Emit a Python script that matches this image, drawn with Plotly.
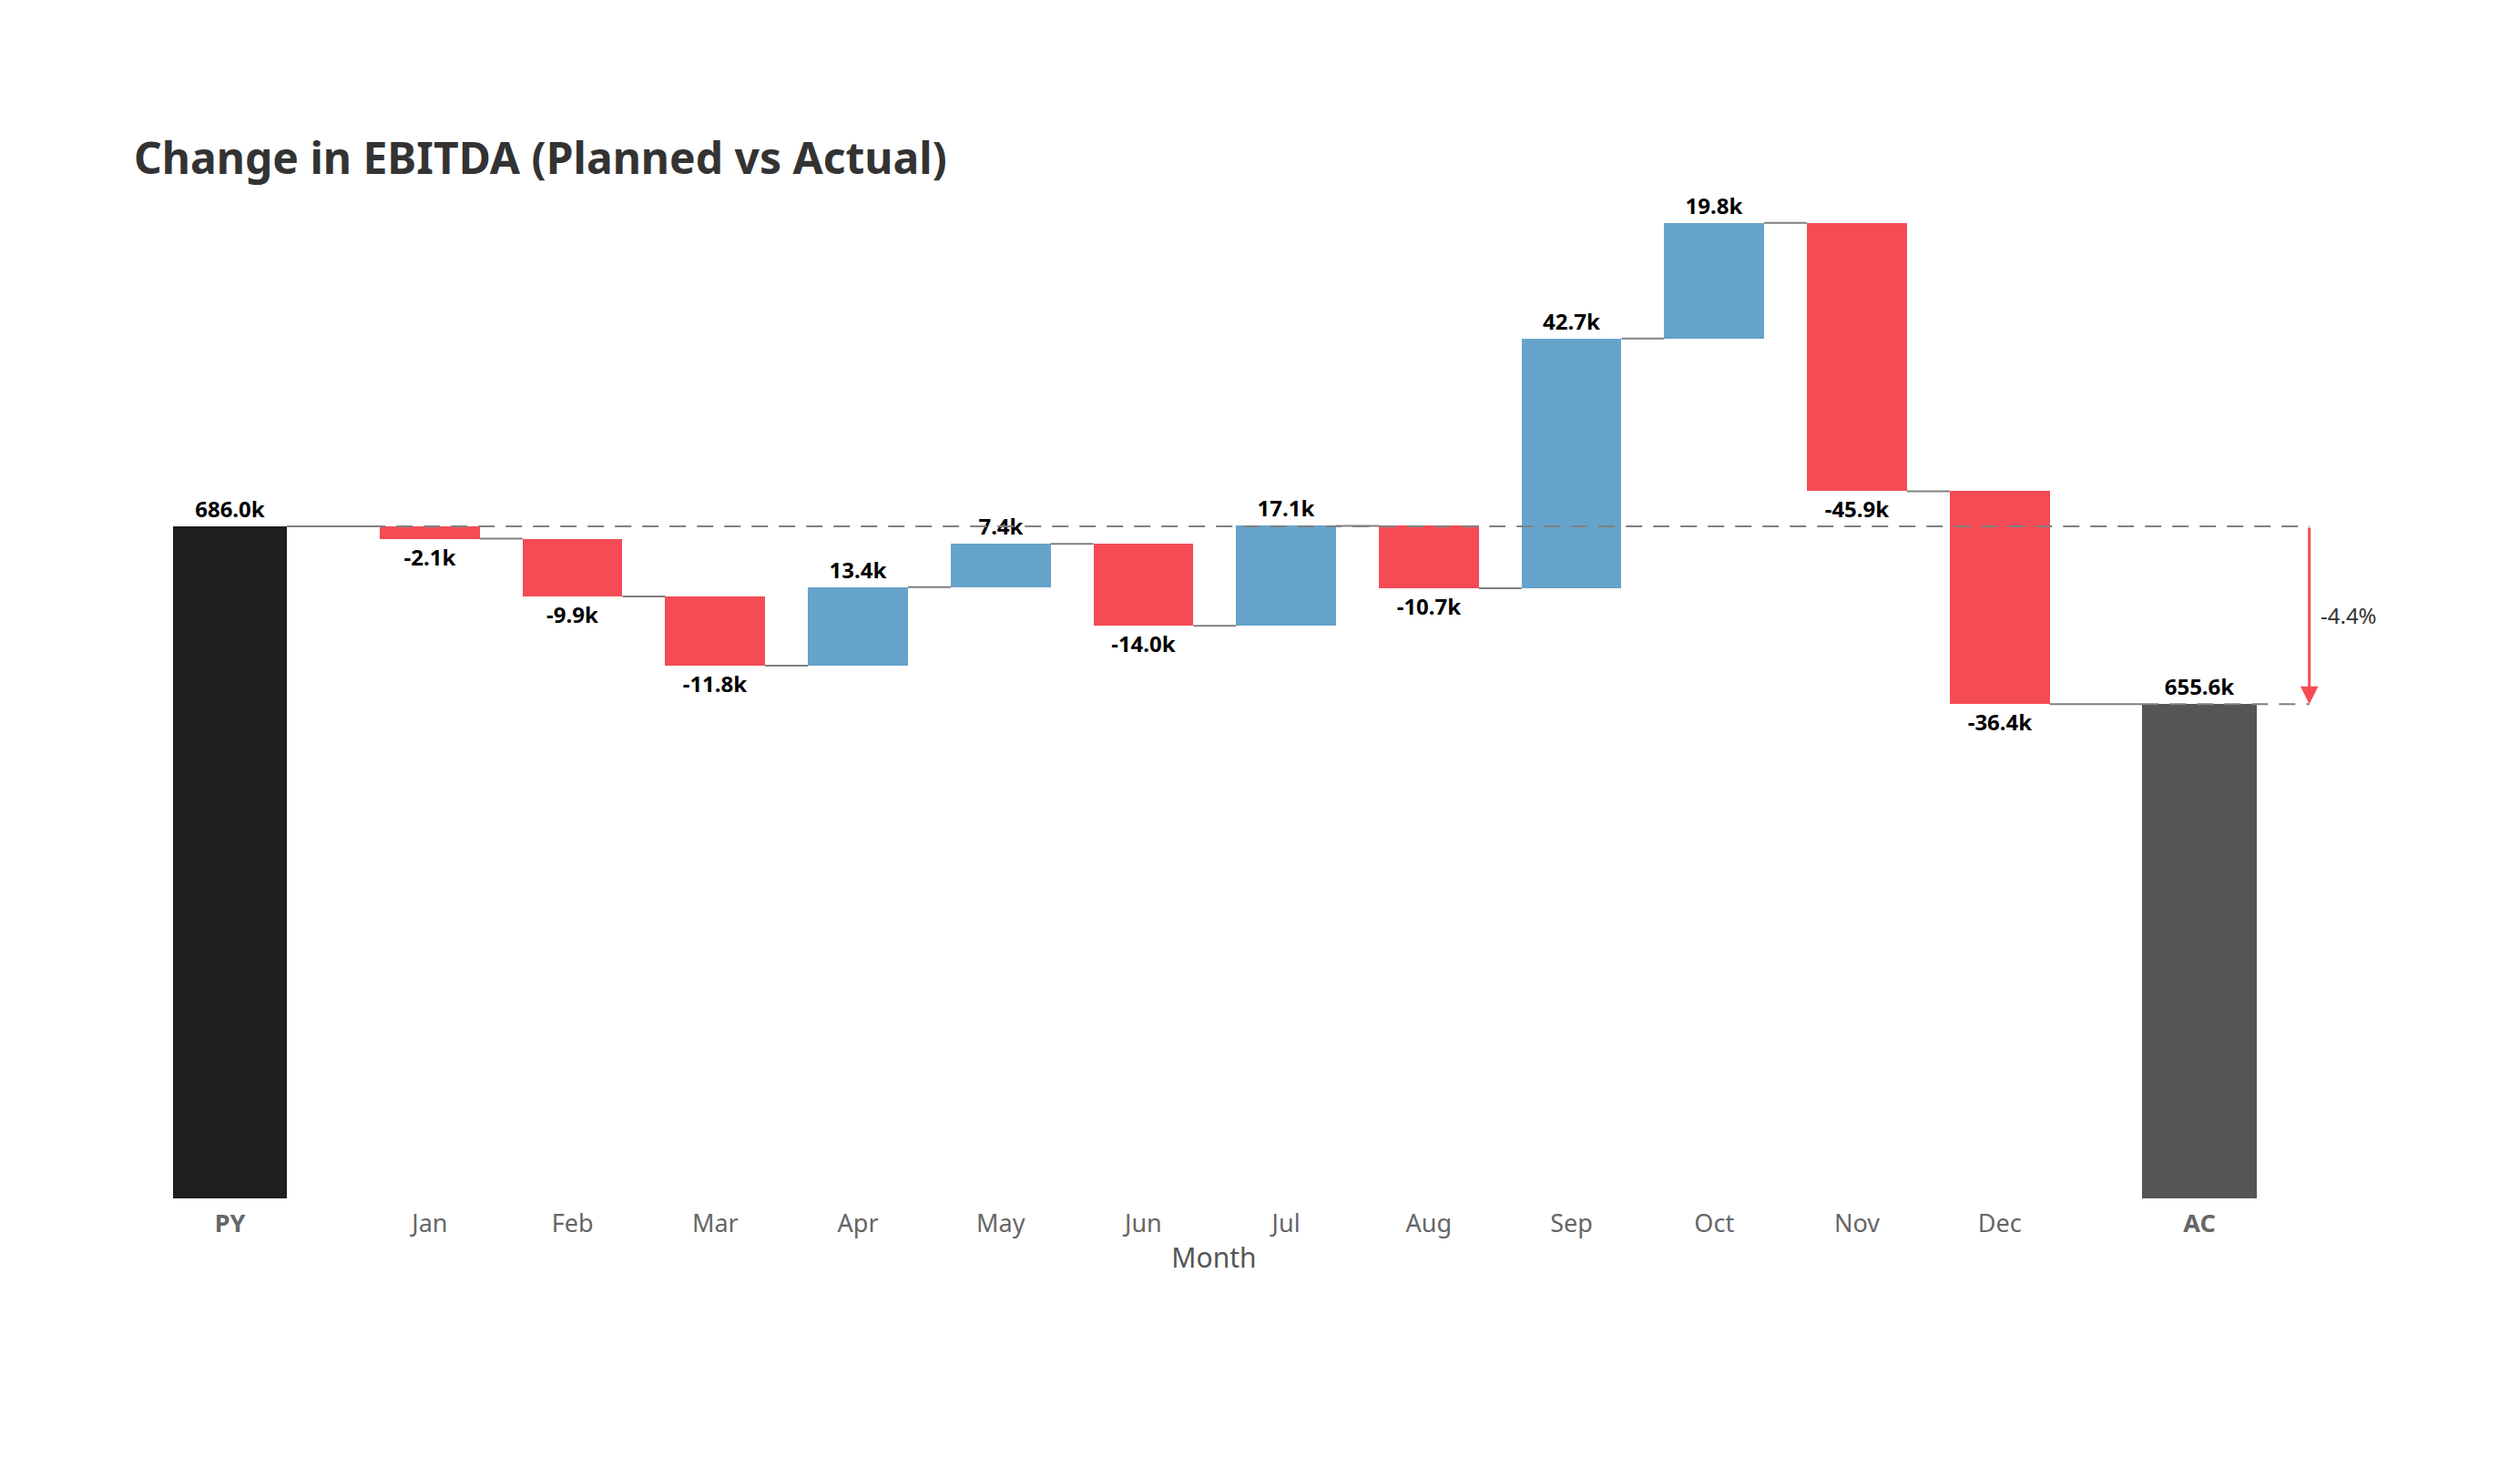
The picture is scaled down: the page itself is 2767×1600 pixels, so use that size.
import plotly.graph_objects as go

# ---- data (values in thousands) ----
months = ["Jan", "Feb", "Mar", "Apr", "May", "Jun", "Jul", "Aug", "Sep", "Oct", "Nov", "Dec"]
py_label = "PY"
ac_label = "AC"
py_value = 686.0
changes = [-2.1, -9.9, -11.8, 13.4, 7.4, -14.0, 17.1, -10.7, 42.7, 19.8, -45.9, -36.4]
ac_value = 655.6

# ---- styles ----
C_POS = "#66a3cb"
C_NEG = "#f44b55"
C_PY = "#1f1f1f"
C_AC = "#555555"
C_LINE = "#808080"
FONT = "Noto Sans"

# x positions (PY and AC set apart from the months)
gap = 1.4
x_py = 0.0
x_months = [gap + i for i in range(len(months))]
x_ac = x_months[-1] + gap
w_total = 0.8
w_month = 0.7

# running totals
bases = []
level = py_value
for c in changes:
    bases.append(level)
    level += c
ends = [b + c for b, c in zip(bases, changes)]

fig = go.Figure()

# totals
fig.add_trace(go.Bar(
    x=[x_py, x_ac], y=[py_value, ac_value], base=0, width=[w_total, w_total],
    marker=dict(color=[C_PY, C_AC], line=dict(width=0)),
    text=[f"{py_value:.1f}k", f"{ac_value:.1f}k"], textposition="outside",
    textfont=dict(family=FONT, size=24, color="#000000", weight="bold"),
    cliponaxis=False, hoverinfo="skip", showlegend=False,
))

# monthly changes
fig.add_trace(go.Bar(
    x=x_months, y=changes, base=bases, width=[w_month] * len(months),
    marker=dict(color=[C_POS if c >= 0 else C_NEG for c in changes], line=dict(width=0)),
    text=[f"{c:.1f}k" for c in changes], textposition="outside",
    textfont=dict(family=FONT, size=24, color="#000000", weight="bold"),
    cliponaxis=False, hoverinfo="skip", showlegend=False,
))

# connectors
xs_all = [x_py] + x_months + [x_ac]
ws_all = [w_total] + [w_month] * len(months) + [w_total]
levels = [py_value] + ends
cx, cy = [], []
for i in range(len(levels)):
    cx += [xs_all[i] + ws_all[i] / 2, xs_all[i + 1] - ws_all[i + 1] / 2, None]
    cy += [levels[i], levels[i], None]
fig.add_trace(go.Scatter(x=cx, y=cy, mode="lines", line=dict(color=C_LINE, width=2),
                         hoverinfo="skip", showlegend=False, cliponaxis=False))

# reference dashed lines and arrow
x_arrow = x_ac + 0.77
fig.add_trace(go.Scatter(
    x=[x_py + w_total / 2, x_arrow, None, x_ac - w_total / 2, x_arrow],
    y=[py_value, py_value, None, ac_value, ac_value],
    mode="lines", line=dict(color=C_LINE, width=2, dash="18px,12px"),
    hoverinfo="skip", showlegend=False, cliponaxis=False))

pct = (ac_value - py_value) / py_value * 100
fig.add_annotation(x=x_arrow, y=ac_value, ax=x_arrow, ay=py_value, xref="x", yref="y",
                   axref="x", ayref="y", text="", showarrow=True, arrowhead=2,
                   arrowsize=1.3, arrowwidth=3, arrowcolor=C_NEG, standoff=0)
fig.add_annotation(x=x_arrow, y=(py_value + ac_value) / 2, xref="x", yref="y",
                   text=f"{pct:.1f}%", showarrow=False, xanchor="left", xshift=10,
                   font=dict(family=FONT, size=24, color="#333333"))

tickvals = xs_all
ticktext = [f"<b>{py_label}</b>"] + months + [f"<b>{ac_label}</b>"]

fig.update_layout(
    width=2767, height=1600,
    paper_bgcolor="white", plot_bgcolor="white",
    margin=dict(l=93, r=210, t=193, b=292),
    title=dict(text="Change in EBITDA (Planned vs Actual)", x=139 / 2767, xanchor="left",
               xref="container", yref="container", y=1 - 166 / 1600, yanchor="middle",
               font=dict(family=FONT, size=48, color="#333333", weight="bold")),
    bargap=0,
    xaxis=dict(range=[-0.967, 14.757], tickvals=tickvals, ticktext=ticktext,
               showgrid=False, zeroline=False, showline=False,
               ticks="outside", ticklen=4, tickcolor="rgba(0,0,0,0)",
               tickfont=dict(family=FONT, size=27, color="#666666"),
               title=dict(text="Month", standoff=10,
                          font=dict(family=FONT, size=30, color="#555555"))),
    yaxis=dict(range=[571.1, 744.7], visible=False, showgrid=False, zeroline=False),
)

fig.write_html("out.html")
